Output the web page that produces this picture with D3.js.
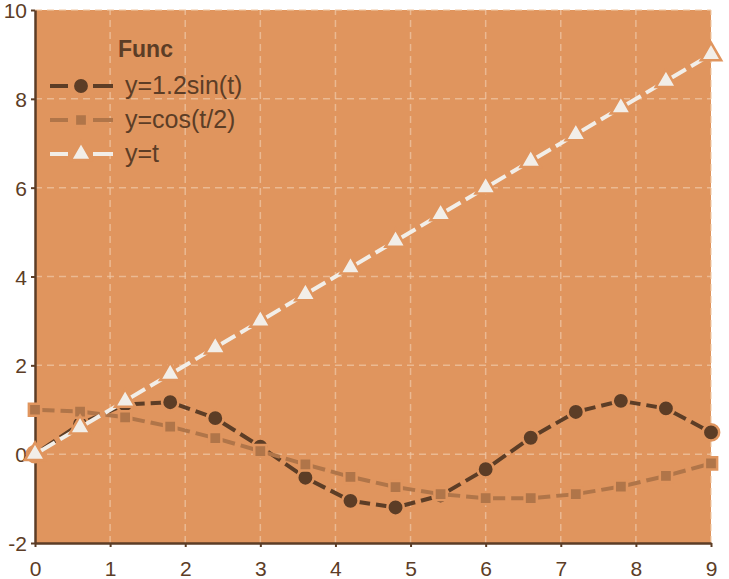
<!DOCTYPE html>
<html><head><meta charset="utf-8">
<script src="https://cdn.jsdelivr.net/npm/d3@7"></script>
<style>body{margin:0;background:#fff}text{font-family:"Liberation Sans",Arial,sans-serif}</style>
</head><body><svg id="c" width="729" height="579"></svg>
<script>
const tValues = [0,0.6,1.2,1.8,2.4,3.0,3.6,4.2,4.8,5.4,6.0,6.6,7.2,7.8,8.4,9.0];
const sinValues = [0,0.68,1.12,1.17,0.81,0.17,-0.53,-1.05,-1.20,-0.93,-0.34,0.37,0.95,1.20,1.03,0.49];
const cosValues = [1.00,0.96,0.83,0.62,0.36,0.07,-0.23,-0.51,-0.74,-0.90,-0.99,-0.99,-0.90,-0.73,-0.49,-0.21];
const linValues = [0,0.6,1.2,1.8,2.4,3.0,3.6,4.2,4.8,5.4,6.0,6.6,7.2,7.8,8.4,9.0];
const seriesNames = ["y=1.2sin(t)","y=cos(t/2)","y=t"];
const xTicks = [0,1,2,3,4,5,6,7,8,9];
const yTicks = [-2,0,2,4,6,8,10];
const legendTitle = "Func";

const bg = "#e0955e", dark = "#5c3d26";
const colors = ["#5c3d26","#b07549","#f2eee8"];
const symbols = [d3.symbolCircle, d3.symbolSquare, d3.symbolTriangle];
const symSizes = [210, 150, 180];

const svg = d3.select("#c");
const m = {l:35, r:18, t:10, b:36};
const W = 729, H = 579;
const x = d3.scaleLinear().domain([0,9]).range([m.l, W-m.r]);
const y = d3.scaleLinear().domain([-2,10]).range([H-m.b, m.t]);

svg.append("rect").attr("x",x(0)).attr("y",y(10)).attr("width",x(9)-x(0)).attr("height",y(-2)-y(10)).attr("fill",bg);

const grid = svg.append("g").attr("stroke","#f0c9a8").attr("stroke-opacity",0.7).attr("stroke-width",1.5).attr("stroke-dasharray","7,5");
xTicks.forEach(v=>{ if(v>0) grid.append("line").attr("x1",x(v)).attr("x2",x(v)).attr("y1",y(-2)).attr("y2",y(10)); });
yTicks.forEach(v=>{ if(v>-2) grid.append("line").attr("x1",x(0)).attr("x2",x(9)).attr("y1",y(v)).attr("y2",y(v)); });

const fmt = d => String(d);
const xAxis = svg.append("g").attr("transform",`translate(0,${y(-2)})`).call(d3.axisBottom(x).tickValues(xTicks).tickFormat(fmt).tickSize(4).tickSizeOuter(0).tickPadding(14));
const yAxis = svg.append("g").attr("transform",`translate(${x(0)},0)`).call(d3.axisLeft(y).tickValues(yTicks).tickFormat(fmt).tickSize(4).tickSizeOuter(0).tickPadding(4));
[xAxis,yAxis].forEach(a=>{
  a.select(".domain").attr("stroke",dark).attr("stroke-width",2.5);
  a.selectAll(".tick line").attr("stroke",dark).attr("stroke-width",2);
  a.selectAll(".tick text").attr("fill",dark).style("font-size","21px").style("font-family","'Liberation Sans',Arial,sans-serif");
});
yAxis.selectAll(".tick text").attr("dy","0.36em");

const data = [sinValues, cosValues, linValues];
const gap = 6;
data.forEach((vals,i)=>{
  const pts = tValues.map((t,j)=>[x(t), y(vals[j])]);
  svg.append("g").selectAll("line").data(d3.pairs(pts)).join("line")
    .attr("x1",d=>d[0][0]).attr("y1",d=>d[0][1]).attr("x2",d=>d[1][0]).attr("y2",d=>d[1][1])
    .attr("stroke",colors[i]).attr("stroke-width",4)
    .attr("stroke-dasharray",d=>{const L=Math.hypot(d[1][0]-d[0][0],d[1][1]-d[0][1]); return `${(L-gap)/2},${gap}`;});
  svg.append("g").selectAll("path").data(pts).join("path")
    .attr("transform",d=>`translate(${d[0]},${d[1]})`)
    .attr("d", d3.symbol().type(symbols[i]).size(symSizes[i]))
    .attr("fill",colors[i]).attr("stroke",bg).attr("stroke-width",2.5);
});

// legend
const lg = svg.append("g");
lg.append("text").attr("x",118).attr("y",57).text(legendTitle).attr("fill",dark).style("font-size","23px").style("font-weight","bold");
seriesNames.forEach((n,i)=>{
  const yy = 86 + i*34;
  lg.append("line").attr("x1",50).attr("x2",113).attr("y1",yy).attr("y2",yy).attr("stroke",colors[i]).attr("stroke-width",4).attr("stroke-dasharray","18,25,20");
  lg.append("path").attr("transform",`translate(81,${yy})`).attr("d",d3.symbol().type(symbols[i]).size(symSizes[i])).attr("fill",colors[i]).attr("stroke",bg).attr("stroke-width",2.5);
  lg.append("text").attr("x",125).attr("y",yy+8).text(n).attr("fill",dark).style("font-size","25px");
});
</script></body></html>
